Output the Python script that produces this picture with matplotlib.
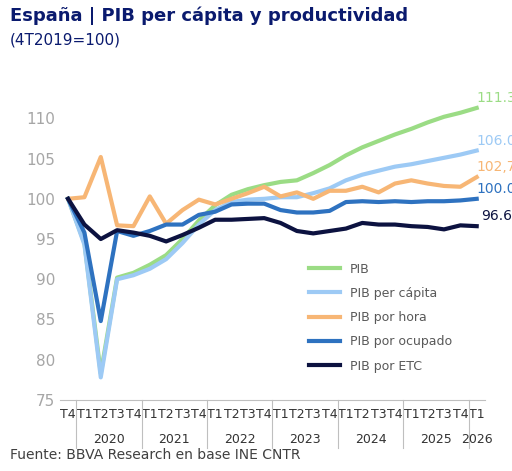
import matplotlib
matplotlib.use("Agg")
import matplotlib.pyplot as plt

quarters = ["T4"] + ["T1", "T2", "T3", "T4"] * 6 + ["T1"]
years = ["2020", "2021", "2022", "2023", "2024", "2025", "2026"]
pib = [100, 94.5, 78.3, 90.2, 90.8, 91.8, 93.0, 95.0, 97.3, 99.2, 100.5, 101.2, 101.7, 102.1, 102.3, 103.2, 104.2, 105.4, 106.4, 107.2, 108.0, 108.7, 109.5, 110.2, 110.7, 111.3]
pib_cap = [100, 94.3, 77.8, 90.0, 90.5, 91.3, 92.5, 94.5, 96.8, 98.6, 99.6, 99.9, 100.0, 100.2, 100.2, 100.7, 101.3, 102.3, 103.0, 103.5, 104.0, 104.3, 104.7, 105.1, 105.5, 106.0]
pib_hora = [100, 100.2, 105.2, 96.7, 96.6, 100.3, 96.9, 98.6, 99.9, 99.3, 100.0, 100.7, 101.5, 100.3, 100.8, 100.0, 101.0, 101.0, 101.5, 100.8, 101.9, 102.3, 101.9, 101.6, 101.5, 102.7]
pib_ocup = [100, 95.8, 84.8, 96.0, 95.4, 96.0, 96.8, 96.8, 98.0, 98.4, 99.3, 99.4, 99.4, 98.6, 98.3, 98.3, 98.5, 99.6, 99.7, 99.6, 99.7, 99.6, 99.7, 99.7, 99.8, 100.0]
pib_etc = [100, 96.8, 95.0, 96.1, 95.8, 95.4, 94.7, 95.5, 96.4, 97.4, 97.4, 97.5, 97.6, 97.0, 96.0, 95.7, 96.0, 96.3, 97.0, 96.8, 96.8, 96.6, 96.5, 96.2, 96.7, 96.6]
end_labels = ["111.3", "106.0", "102,7", "100.0", "96.6"]

series = [("PIB", pib, "#9bdc85"),
          ("PIB per cápita", pib_cap, "#9dcaf5"),
          ("PIB por hora", pib_hora, "#f7b675"),
          ("PIB por ocupado", pib_ocup, "#2e72c0"),
          ("PIB por ETC", pib_etc, "#0c1240")]

fig = plt.figure(figsize=(5.12, 4.71), dpi=100)
ax = fig.add_axes([0.117, 0.151, 0.83, 0.683])
x = list(range(len(quarters)))
for name, vals, col in series:
    ax.plot(x, vals, color=col, lw=3, label=name)
for (name, vals, col), lab in zip(series, end_labels):
    ax.annotate(lab, (x[-1], vals[-1]), xytext=(14, 7), textcoords="offset points",
                color=col, fontsize=10, ha="center", va="center")

ax.set_xlim(-0.5, 25.5)
ax.set_ylim(75, 115)
ax.set_yticks(range(75, 115, 5))
ax.tick_params(axis="y", length=0, labelsize=11, labelcolor="#a6a6a6")
ax.set_xticks(x)
ax.set_xticklabels(quarters, fontsize=9, color="#333333")
ax.tick_params(axis="x", length=0, pad=6)
for s in ["top", "right", "left"]:
    ax.spines[s].set_visible(False)
ax.spines["bottom"].set_color("#bfbfbf")
for i, y in enumerate(years):
    xc = 2.5 + 4 * i if i < 6 else 25
    ax.text(xc, -0.135, y, transform=ax.get_xaxis_transform(), ha="center", fontsize=9, color="#333333")
for b in [0.5 + 4 * i for i in range(7)]:
    ax.plot([b, b], [0, -0.15], transform=ax.get_xaxis_transform(), color="#bfbfbf", lw=0.8, clip_on=False)

ax.legend(loc="lower right", bbox_to_anchor=(0.95, 0.05), frameon=False, fontsize=9,
          handlelength=2.5, labelcolor="#595959", labelspacing=0.9)

fig.text(0.02, 0.955, "España | PIB per cápita y productividad", fontsize=13, fontweight="bold", color="#0a1a6e")
fig.text(0.02, 0.905, "(4T2019=100)", fontsize=11, color="#0a1a6e")
fig.text(0.02, 0.025, "Fuente: BBVA Research en base INE CNTR", fontsize=10, color="#404040")
fig.savefig("out.png", dpi=100)
